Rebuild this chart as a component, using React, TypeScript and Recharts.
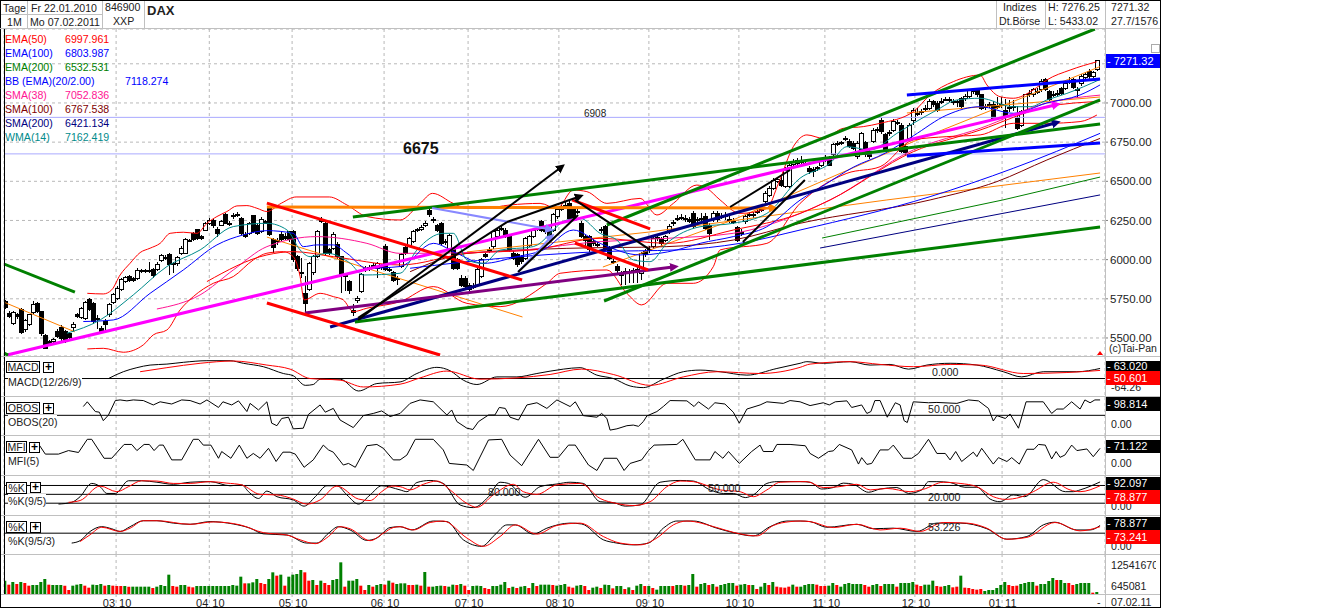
import { ComposedChart, Bar, Line, XAxis, YAxis, CartesianGrid, ReferenceLine, Cell } from "recharts";

// bar index of the first trading day of each month
const monthTicks = [27.7, 51, 71.7, 94.7, 115.7, 138.4, 160.9, 183.4, 204.9, 227.4, 249.2];
const monthLabels = ["03", "04", "05", "06", "07", "08", "09", "10", "11", "12", "01"];
const yearLabels = ["10", "10", "10", "10", "10", "10", "10", "10", "10", "10", "11"];
const priceTicks = [5500, 5750, 6000, 6250, 6500, 6750, 7000, 7250];

const opens = [
  5732, 5658, 5590, 5650, 5679, 5551, 5583, 5662, 5717, 5668,
  5513, 5477, 5477, 5541, 5568, 5541, 5530, 5566, 5647, 5632,
  5626, 5743, 5722, 5615, 5562, 5605, 5647, 5726, 5753, 5811,
  5860, 5892, 5881, 5881, 5924, 5930, 5930, 5934, 5934, 5994,
  6009, 6030, 5977, 5977, 6041, 6041, 6122, 6168, 6190, 6147,
  6185, 6228, 6249, 6194, 6221, 6285, 6232, 6275, 6285, 6264,
  6162, 6168, 6279, 6221, 6179, 6243, 6328, 6130, 6125, 6158,
  6150, 6179, 6179, 6019, 5917, 5785, 5811, 5917, 6019, 6253,
  6232, 6062, 6073, 6094, 6019, 5902, 5860, 5675, 5737, 5796,
  5945, 5935, 5965, 5945, 5960, 6083, 5940, 5917, 5880, 5955,
  6079, 6093, 6115, 6193, 6193, 6221, 6312, 6257, 6215, 6232,
  6115, 6062, 6062, 5998, 5881, 5881, 5838, 5830, 5838, 5891,
  6030, 6062, 6083, 6147, 6200, 6189, 6157, 6040, 6030, 6015,
  6008, 6093, 6147, 6198, 6242, 6195, 6178, 6189, 6274, 6321,
  6345, 6359, 6317, 6310, 6232, 6147, 6147, 6115, 6097, 6185,
  6210, 6072, 5990, 5955, 5913, 5925, 5925, 5925, 5935, 5913,
  6051, 6060, 6083, 6135, 6129, 6125, 6178, 6232, 6264, 6268,
  6260, 6255, 6295, 6255, 6265, 6274, 6221, 6253, 6295, 6275,
  6280, 6255, 6245, 6206, 6170, 6242, 6285, 6285, 6305, 6315,
  6370, 6412, 6455, 6500, 6508, 6466, 6466, 6610, 6615, 6630,
  6615, 6583, 6578, 6580, 6598, 6635, 6647, 6668, 6742, 6742,
  6774, 6753, 6742, 6657, 6700, 6747, 6689, 6753, 6825, 6891,
  6796, 6810, 6827, 6875, 6859, 6721, 6774, 6891, 6935, 6945,
  6965, 6966, 7008, 6998, 7010, 7025, 7020, 7010, 7010, 7030,
  7030, 7040, 7078, 7083, 7051, 6975, 6985, 6987, 6980, 6990,
  6955, 6972, 6980, 6902, 6859, 6955, 7060, 7051, 7075, 7083,
  7147, 7072, 7055, 7060, 7093, 7093, 7135, 7147, 7087, 7125,
  7165, 7200, 7172, 7215,
];
const closes = [
  5696, 5637, 5662, 5637, 5534, 5611, 5647, 5711, 5668, 5526,
  5434, 5462, 5492, 5509, 5498, 5492, 5505, 5588, 5637, 5690,
  5726, 5679, 5605, 5626, 5541, 5583, 5711, 5775, 5817, 5875,
  5885, 5870, 5870, 5930, 5930, 5924, 5925, 5896, 5966, 6024,
  6015, 5966, 5966, 6015, 6073, 6130, 6118, 6130, 6136, 6136,
  6232, 6249, 6215, 6164, 6243, 6232, 6226, 6279, 6279, 6168,
  6147, 6228, 6179, 6168, 6258, 6232, 6158, 6077, 6115, 6126,
  6135, 6126, 5998, 5945, 5911, 5722, 5977, 6019, 6179, 6243,
  6041, 6041, 6158, 6019, 5902, 5892, 5802, 5662, 5753, 5902,
  5934, 5950, 5958, 5975, 5950, 5934, 5930, 5870, 5872, 6030,
  6040, 6136, 6179, 6185, 6206, 6232, 6291, 6249, 6185, 6104,
  6108, 6157, 5945, 5945, 5838, 5828, 5811, 5822, 5934, 5998,
  6023, 6051, 6178, 6189, 6192, 6147, 6062, 6008, 5966, 5987,
  6136, 6147, 6189, 6192, 6189, 6180, 6136, 6285, 6317, 6338,
  6338, 6264, 6264, 6300, 6147, 6125, 6062, 6105, 6090, 6195,
  6072, 6008, 5985, 5930, 5896, 5917, 5918, 5930, 5925, 6040,
  6030, 6066, 6136, 6140, 6100, 6145, 6210, 6235, 6257, 6262,
  6255, 6245, 6210, 6250, 6262, 6200, 6168, 6295, 6253, 6272,
  6277, 6250, 6238, 6125, 6175, 6274, 6290, 6280, 6310, 6320,
  6423, 6455, 6508, 6510, 6476, 6572, 6604, 6625, 6632, 6620,
  6605, 6562, 6562, 6585, 6636, 6640, 6604, 6732, 6738, 6745,
  6770, 6721, 6710, 6742, 6806, 6668, 6657, 6827, 6830, 6817,
  6700, 6805, 6881, 6870, 6689, 6683, 6859, 6955, 6930, 6940,
  6960, 7008, 6990, 6955, 7005, 7020, 7015, 7005, 7002, 6976,
  7040, 7078, 7075, 7051, 6966, 6970, 6990, 6902, 6975, 6985,
  6923, 6968, 6975, 6838, 6944, 7051, 7055, 7083, 7070, 7136,
  7083, 7019, 7050, 7058, 7062, 7125, 7140, 7100, 7085, 7172,
  7180, 7168, 7193, 7271,
];
const highs = [
  5745, 5670, 5675, 5660, 5690, 5620, 5655, 5735, 5730, 5675,
  5525, 5490, 5500, 5555, 5585, 5550, 5540, 5600, 5660, 5700,
  5735, 5755, 5730, 5645, 5575, 5620, 5725, 5790, 5830, 5885,
  5895, 5905, 5890, 5945, 5940, 5938, 5985, 5945, 5985, 6035,
  6030, 6045, 5985, 6025, 6085, 6135, 6130, 6175, 6195, 6155,
  6240, 6265, 6260, 6210, 6255, 6295, 6245, 6295, 6305, 6270,
  6175, 6240, 6285, 6235, 6270, 6255, 6345, 6140, 6135, 6175,
  6170, 6185, 6190, 6030, 6010, 5895, 5985, 6030, 6190, 6270,
  6240, 6075, 6175, 6110, 6025, 5915, 5870, 5720, 5770, 5915,
  5960, 5965, 5980, 5985, 5975, 6100, 5950, 5925, 5895, 6040,
  6090, 6145, 6190, 6205, 6220, 6245, 6325, 6270, 6230, 6240,
  6130, 6165, 6070, 6010, 5900, 5895, 5850, 5850, 5945, 6010,
  6045, 6080, 6190, 6200, 6215, 6200, 6165, 6055, 6045, 6030,
  6145, 6160, 6200, 6215, 6255, 6210, 6190, 6295, 6330, 6350,
  6365, 6385, 6330, 6325, 6245, 6160, 6160, 6130, 6115, 6210,
  6220, 6085, 6005, 5970, 5930, 5945, 5940, 5945, 5950, 6050,
  6065, 6085, 6150, 6160, 6145, 6160, 6225, 6255, 6285, 6290,
  6285, 6275, 6310, 6275, 6300, 6300, 6235, 6310, 6310, 6300,
  6305, 6280, 6265, 6215, 6195, 6290, 6305, 6305, 6330, 6340,
  6435, 6470, 6520, 6525, 6540, 6590, 6610, 6640, 6650, 6660,
  6630, 6600, 6590, 6600, 6650, 6665, 6660, 6745, 6755, 6760,
  6790, 6770, 6755, 6755, 6815, 6760, 6700, 6840, 6845, 6905,
  6810, 6830, 6895, 6890, 6870, 6735, 6870, 6965, 6965, 6960,
  6985, 7025, 7020, 7010, 7030, 7040, 7035, 7025, 7020, 7040,
  7055, 7090, 7090, 7095, 7060, 6995, 7005, 7010, 7035, 7040,
  7025, 7020, 7020, 6980, 6955, 7060, 7080, 7095, 7095, 7150,
  7160, 7085, 7075, 7080, 7105, 7140, 7165, 7160, 7105, 7185,
  7200, 7215, 7205, 7276,
];
const lows = [
  5685, 5625, 5580, 5620, 5525, 5540, 5575, 5655, 5660, 5515,
  5433, 5450, 5470, 5500, 5480, 5470, 5495, 5535, 5625, 5620,
  5615, 5670, 5590, 5560, 5525, 5545, 5635, 5715, 5745, 5800,
  5850, 5860, 5860, 5870, 5915, 5915, 5915, 5885, 5925, 5985,
  6000, 5900, 5915, 5960, 6030, 6035, 6110, 6120, 6125, 6125,
  6180, 6220, 6205, 6145, 6215, 6225, 6215, 6260, 6270, 6160,
  6135, 6160, 6170, 6160, 6170, 6225, 6150, 6040, 6095, 6115,
  6125, 6115, 5985, 5930, 5880, 5665, 5800, 5905, 6010, 6235,
  6030, 6030, 6060, 6005, 5790, 5800, 5780, 5640, 5725, 5785,
  5920, 5925, 5945, 5880, 5935, 5925, 5920, 5860, 5840, 5945,
  6030, 6085, 6105, 6175, 6185, 6210, 6275, 6235, 6175, 6095,
  6095, 6050, 5935, 5935, 5825, 5815, 5800, 5810, 5825, 5880,
  6010, 6040, 6070, 6135, 6180, 6135, 6050, 5995, 5955, 5975,
  5995, 6080, 6135, 6180, 6175, 6165, 6110, 6175, 6260, 6310,
  6325, 6255, 6255, 6290, 6135, 6090, 6050, 6090, 6080, 6170,
  6060, 5995, 5970, 5915, 5840, 5840, 5850, 5850, 5850, 5870,
  6015, 6045, 6070, 6120, 6090, 6110, 6165, 6215, 6245, 6250,
  6240, 6235, 6200, 6235, 6245, 6190, 6125, 6240, 6240, 6260,
  6255, 6235, 6225, 6115, 6150, 6230, 6270, 6265, 6290, 6305,
  6360, 6400, 6445, 6490, 6465, 6455, 6455, 6600, 6605, 6610,
  6595, 6545, 6530, 6565, 6590, 6625, 6595, 6660, 6725, 6730,
  6755, 6710, 6700, 6640, 6690, 6655, 6645, 6745, 6810, 6805,
  6690, 6790, 6815, 6860, 6680, 6670, 6765, 6860, 6915, 6925,
  6950, 6955, 6975, 6945, 6995, 7010, 7005, 6990, 6975, 6965,
  7015, 7030, 7060, 7040, 6955, 6955, 6970, 6890, 6960, 6970,
  6840, 6945, 6950, 6830, 6845, 6940, 7040, 7040, 7055, 7070,
  7075, 7010, 7035, 7045, 7050, 7085, 7120, 7090, 7030, 7110,
  7155, 7155, 7160, 7205,
];

// volume in units of roughly 27k shares
const volumes = [
  40, 28, 36, 30, 36, 33, 25, 27, 27, 36,
  45, 28, 27, 27, 27, 25, 12, 25, 28, 30,
  25, 19, 28, 27, 30, 25, 27, 25, 24, 24,
  24, 22, 22, 22, 22, 22, 22, 18, 22, 27,
  24, 58, 24, 22, 27, 27, 22, 20, 24, 24,
  24, 24, 24, 24, 24, 24, 24, 27, 25, 52,
  32, 32, 35, 45, 33, 30, 45, 65, 55, 58,
  25, 52, 58, 60, 72, 65, 40, 42, 27, 40,
  33, 27, 42, 45, 95, 22, 40, 40, 45, 25,
  12, 27, 22, 27, 30, 28, 40, 34, 30, 32,
  32, 27, 27, 28, 25, 66, 22, 22, 24, 25,
  24, 22, 28, 27, 30, 25, 12, 24, 25, 24,
  18, 15, 24, 24, 28, 36, 18, 22, 18, 22,
  24, 18, 33, 24, 28, 28, 28, 27, 25, 27,
  30, 22, 19, 25, 27, 24, 12, 19, 22, 18,
  28, 27, 17, 24, 24, 15, 20, 12, 25, 30,
  24, 24, 18, 13, 24, 24, 24, 24, 27, 27,
  25, 27, 60, 22, 30, 33, 27, 30, 22, 27,
  30, 33, 33, 25, 28, 30, 27, 27, 15, 22,
  33, 27, 36, 22, 20, 19, 22, 28, 22, 22,
  27, 30, 30, 28, 24, 24, 25, 33, 27, 22,
  30, 33, 30, 30, 30, 27, 22, 27, 30, 24,
  30, 30, 30, 22, 33, 33, 33, 36, 28, 24,
  28, 28, 40, 24, 22, 24, 27, 20, 22, 55,
  19, 18, 15, 13, 15, 9, 12, 12, 18, 27,
  36, 27, 24, 25, 30, 33, 36, 36, 25, 30,
  30, 39, 48, 42, 42, 33, 33, 27, 30, 33,
  33, 33, 4, 6,
];
// g = up day, r = down day
const volumeColors = [
  "grgrgrrggg", "grgggrrggg", "rrgggrgrrr", "grgggggrgg", "ggrrggrrgg",
  "gggggggggg", "rgggrrggrg", "rggggrrgrg", "rrgggrgggr", "rgrggrgrgg",
  "grrgrgrggg", "rggrgrrggg", "rrggggrgrg", "grgrgggrgg", "grrggrrggr",
  "ggrggrgrgg", "rgrggggrgg", "rggrggrgrg", "gggrggrgrg", "grgrrrrgrg",
  "gggrrrggrg", "gggggrrggr", "gggrggggrr", "gggrrggrrg", "rrrrrggggg",
  "grrrggggrg", "gggrggrrgg", "ggrg",
].join("");

// moving averages, [bar index, price]
const wma14 = [[15.4,5530],[23.7,5615],[32,5775],[40.4,5956],[48.7,6062],[57,6211],[65.4,6232],[70.4,6190],[73.7,6062],[76.2,6019],[80.4,6041],[86.2,5977],[89.5,5902],[98.7,5913],[102.9,6061],[109.5,6168],[112,6168],[115.4,5998],[119.5,5976],[123.7,6061],[132,6083],[140.4,6253],[143.7,6264],[148.7,6168],[152.9,6125],[157,5998],[161.2,5987],[165.4,6104],[173.7,6210],[182,6232],[190.4,6295],[198.7,6520],[206.2,6615],[210.4,6721],[216.2,6700],[222.9,6806],[227,6870],[232.9,6955],[237.9,7019],[243.7,7030],[252,6976],[256.2,6976],[260.4,7019],[265.4,7061],[273.7,7150]];
const bbMid = [[19.5,5605],[27,5615],[36.2,5785],[44.5,5934],[52.9,6094],[59.5,6158],[65.4,6185],[72,6168],[74.5,6083],[77.9,6094],[82,6094],[85.4,6041],[90.4,5945],[98.7,5956],[107,6104],[112.9,6040],[119.5,5976],[127.9,6019],[134.5,6062],[142,6189],[148.7,6104],[158.7,6030],[167.9,6062],[173.7,6104],[182,6147],[190.4,6210],[198.7,6380],[205,6480],[212,6590],[220,6680],[227,6790],[235.4,6923],[243.7,6976],[252,6934],[260.4,7000],[268.7,7051],[273.7,7115]];
const bbUpper = [[20.5,5785],[24.5,5781],[26.6,5807],[28.7,5902],[31.2,5977],[33.7,6045],[36.2,6073],[38.7,6104],[41.2,6168],[44.5,6175],[47.9,6168],[50.4,6232],[52.9,6275],[55.4,6307],[57.9,6343],[60.4,6345],[62.9,6328],[65.4,6307],[69,6360],[72.7,6400],[81,6400],[85.4,6349],[90.4,6275],[98.7,6253],[103.7,6359],[106.8,6423],[112,6359],[115.4,6327],[119.5,6327],[126.2,6349],[133.7,6359],[137.9,6327],[142,6444],[145.4,6434],[150.4,6359],[158.7,6391],[162.9,6285],[167,6359],[172.9,6476],[175.4,6455],[178.7,6381],[183.7,6295],[190.4,6327],[193.3,6487],[197,6721],[200.4,6796],[204.5,6774],[209.5,6838],[214.5,6849],[218.7,6870],[227,6944],[231.2,7051],[237,7136],[243.7,7178],[245.4,7115],[248.7,7040],[252,7030],[257,7083],[260.4,7147],[266.2,7210],[272.9,7263]];
const bbLower = [[20.5,5430],[24.5,5434],[29.5,5409],[34.5,5456],[37,5520],[40.4,5551],[43.7,5679],[47,5764],[52,5849],[57,5892],[62,5998],[65.4,6041],[69.5,6051],[72,6019],[73.7,5892],[74.7,5743],[78.7,5785],[82,5764],[84.5,5743],[87,5668],[90.4,5690],[98.7,5732],[107,5828],[115.4,5721],[123.7,5700],[135.4,5849],[138.7,5913],[150.4,5934],[155.4,5785],[159.1,5711],[165.4,5849],[172,5849],[177,5955],[178.7,6062],[190.4,6104],[198.7,6359],[210.4,6551],[218.7,6593],[227,6764],[235.4,6785],[243.7,6796],[252,6870],[260.4,6870],[268.7,6881],[272.9,6923]];
const ema50 = [[50.4,5860],[65.4,6030],[72,6051],[82,6019],[98.7,5966],[115.4,6040],[132,6062],[148.7,6136],[165.4,6104],[182,6189],[198.7,6295],[206.2,6381],[227,6689],[243.7,6827],[260.4,6976],[273.7,7010]];
const sma38 = [[37.9,5685],[48.7,5775],[57,5934],[65.4,6083],[77.9,6147],[90.4,6104],[98.7,6040],[123.7,6051],[148.7,6115],[165.4,6136],[182,6168],[198.7,6295],[206.2,6381],[227,6700],[243.7,6838],[260.4,7000],[273.7,7050]];
const sma100 = [[101.2,5923],[115.4,6040],[140.4,6072],[165.4,6083],[182,6125],[198.7,6232],[231.2,6381],[247.9,6498],[260.4,6636],[273.7,6774]];
const ema100 = [[101.2,5945],[123.7,6008],[148.7,6051],[167.9,6062],[183.7,6104],[198.7,6189],[231.2,6402],[252,6583],[273.7,6806]];
const ema200 = [[204.2,6138],[249.4,6381],[273.7,6527]];
const sma200 = [[203.7,6074],[273.7,6413]];
const orangeThin = [
  [[0,5725],[17.4,5539]],
  [[65.4,6144],[129.3,5634]],
  [[115.4,6049],[160.9,6176],[220.4,6381],[273.7,6553]],
  [[225.4,6936],[273.7,7038]],
  [[149.4,5953],[181.9,6253],[227,6753],[273.7,7232]],
];

// hand drawn trend lines, [bar index, price]
const greenTrends = [
  [[-0.3,5972],[17.4,5793]],
  [[-0.3,5404],[0.7,5391]],
  [[87.4,5602],[273.7,6208]],
  [[149.7,5736],[273.7,7019]],
  [[86.9,6272],[273.7,6866]],
  [[150.4,6221],[272.4,7472]],
];
const redTrends = [
  [[65.4,6361],[129.2,5870]],
  [[65.4,5723],[108.7,5391]],
  [[141.7,6381],[161.2,6196]],
  [[142.4,6106],[160.7,5934]],
];
const blackTrends = [
  [[88.2,5628],[125.4,6240]],
  [[128.2,5921],[143.2,6285]],
  [[142.4,6381],[161.2,6062]],
  [[181.2,6336],[196.2,6572]],
  [[184.4,6113],[199.9,6508]],
];
const blackArrows = [
  [[88.2,5615],[138.7,6585]],
  [[125.4,6240],[143.2,6400]],
];
const lavenderArrows = [
  [[106.7,6330],[135.7,6195]],
  [[128.2,5921],[136.2,6138]],
];
const magentaArrow = [[0.4,5391],[262.4,6987]];
const orangeArrow = [[65.4,6336],[191.7,6330]];
const navyArrow = [[81.2,5570],[262.4,6872]];
const purpleArrow = [[74.9,5659],[166.9,5953]];
const blueTrends = [
  [[225.4,7051],[273.7,7153]],
  [[225.4,6661],[273.7,6744]],
];

// indicator panels, [bar index, value]
const macd = [[25.8,0],[29.5,42],[32.9,67],[36.2,83],[40.4,89],[44.5,100],[50.4,110],[56.2,110],[59.5,94],[64.5,73],[69.5,31],[72,17],[75,-42],[77,-37],[78.7,-4],[83.7,-4],[88.3,-77],[92.9,-31],[98.7,-21],[102.9,31],[107.9,69],[111.2,48],[114.5,-10],[117.9,-37],[122.9,10],[127.9,10],[132.9,31],[139.5,58],[143.7,67],[147.9,21],[152,0],[156.2,-46],[159.5,-56],[164.5,-4],[169.5,42],[173.7,52],[178.7,42],[185.4,21],[192.9,62],[198.7,94],[200.4,104],[204.5,94],[211.2,104],[216.2,83],[221.2,87],[225.8,58],[230.4,83],[236.2,94],[242.9,83],[249.5,42],[254.1,10],[259.5,42],[267.9,42],[273.7,62]];
const macdSignal = [[33.7,42],[40.4,67],[48.7,94],[57,108],[65.4,83],[71.2,58],[76.2,0],[83.7,-10],[89.5,-52],[98.7,-35],[103.7,4],[110.4,46],[118.7,-4],[127.9,4],[136.2,25],[144.1,58],[152,25],[161.2,-42],[169.5,10],[177.9,42],[188.7,31],[198.7,69],[201.2,89],[211.2,104],[218.7,87],[227,73],[236.2,87],[243.7,83],[254.5,31],[265.4,37],[273.7,50]];
const obos = [[19.5,78],[20.5,93],[22.5,62],[23.5,60],[24.5,33],[25.8,51],[27.5,97],[28.7,99],[30.4,96],[32,99],[34.5,97],[37,83],[38.7,93],[41.6,86],[44.1,99],[46.2,97],[48.7,86],[50.4,99],[53.3,75],[54.4,93],[56.6,83],[58.3,96],[60.4,62],[61.2,88],[63.3,67],[65.4,93],[66.6,25],[67.9,17],[69.1,40],[70.8,44],[72,7],[74.5,9],[75.8,53],[78.7,83],[80,60],[82,72],[83.7,35],[87,11],[89.5,49],[92,56],[94.1,64],[96.2,46],[98.7,56],[101.2,88],[103.7,99],[107,93],[110.4,51],[111.6,67],[112.9,30],[115.4,9],[116.9,5],[118.3,30],[120.8,51],[122.4,51],[123.5,75],[125,72],[126.2,44],[128.3,35],[130.4,83],[132.9,90],[135.4,72],[137.9,99],[141.2,78],[142.5,93],[144.5,49],[147.9,44],[149.1,56],[150.4,40],[151.2,3],[152.9,7],[155.4,17],[157,19],[158.3,15],[159.5,30],[160.4,48],[162.9,62],[164.5,78],[166.2,97],[170.4,96],[172.2,78],[173.3,93],[175.8,70],[177.4,90],[179.9,86],[182,60],[183.5,25],[185.4,70],[188.7,83],[190.4,93],[194.5,88],[196.2,97],[198.7,93],[201.2,81],[204.5,90],[206,83],[207.5,93],[210.4,96],[211.6,75],[214.1,83],[215.4,56],[216.4,62],[217.4,97],[218.7,97],[220.5,44],[222.5,90],[223.7,83],[224.7,33],[225.5,27],[227,93],[230.8,90],[232.9,91],[237.9,88],[240.8,99],[243.3,96],[245.8,72],[247,32],[247.9,49],[250,40],[251.2,54],[253.3,9],[255.2,93],[259.5,93],[261.6,56],[262.9,70],[264.5,70],[266.6,93],[268.7,70],[269.9,99],[271.2,90],[272.4,99],[273.7,99]];
const mfi = [[8.5,81],[10,53],[13.3,53],[15.8,64],[18.3,58],[20.5,99],[21.6,99],[24.7,40],[26.6,40],[29.7,83],[31.6,83],[32.9,64],[34.7,83],[36,83],[37.2,64],[38.5,81],[39.5,81],[41.6,35],[44.1,35],[47,99],[48.3,99],[49.5,81],[51.4,81],[53.3,40],[54.1,61],[56.4,40],[58.5,81],[60.4,40],[62,55],[63.7,40],[65.8,71],[67.7,30],[69.4,59],[71.2,59],[72.5,53],[74.7,12],[77,35],[79.5,81],[80.8,66],[82,59],[84.5,19],[85.8,24],[87.5,12],[90.4,79],[92.9,83],[94.5,71],[97,35],[98.7,35],[100.4,50],[102.5,99],[107,99],[109.5,66],[111,24],[115.4,19],[117,2],[120.8,97],[124.1,99],[126.2,50],[129.1,17],[133.3,99],[136.2,43],[138.3,43],[140.8,81],[142.5,81],[145.8,19],[147.9,2],[149.7,40],[152.9,40],[154.7,2],[156.2,24],[159.1,35],[160.8,64],[162.2,81],[167.9,83],[169.4,99],[172.5,35],[176.2,35],[177.4,61],[179.4,40],[180.8,61],[183.5,24],[186.6,61],[188.7,81],[189.5,61],[191.9,61],[192.9,83],[196.2,83],[200,79],[201.2,55],[203.3,40],[205.8,61],[207,63],[208.5,83],[211.6,66],[213.3,22],[214.1,42],[215.4,21],[216.6,24],[218.7,66],[220.8,66],[222,81],[224.5,40],[226.6,40],[228.3,55],[230.8,99],[232.9,55],[235,55],[236.2,35],[237.6,61],[239.1,30],[242,59],[242.9,45],[244.1,71],[247,22],[248.3,42],[250.4,30],[251.6,42],[253.5,22],[255.4,68],[257.2,68],[258.3,83],[260,81],[261.6,38],[262.7,61],[263.7,43],[264.9,50],[266.6,81],[267.9,64],[270.4,69],[272,45],[273.7,71]];
const stochK = [[13.3,17],[16.6,23],[18.7,42],[21.6,87],[23.7,76],[25.4,53],[27.5,53],[30.8,96],[34.1,96],[37.9,91],[42,84],[46.2,91],[51.2,93],[56.2,79],[59.1,82],[60.8,59],[63.3,36],[65.4,61],[67.9,42],[72,31],[74.7,10],[77.5,42],[80.4,79],[82.9,79],[85.4,48],[88.3,17],[91.2,48],[94.1,79],[98.7,65],[100.4,59],[102.9,90],[106.2,97],[109.5,87],[113.7,14],[117,5],[120.8,42],[123.7,91],[125.8,87],[130,40],[133.7,76],[137.9,85],[141.2,91],[144.5,87],[148.7,25],[152,22],[155,10],[158.7,14],[163.7,91],[168.7,97],[172,95],[176.2,65],[179.5,53],[182,53],[185,39],[187,48],[190.4,87],[192.9,93],[198.7,93],[201.2,91],[204.1,68],[207,73],[209.5,88],[212,84],[215.8,57],[218.7,68],[222.9,73],[225.8,53],[229.1,65],[230.8,93],[232.9,93],[236.2,90],[239.9,74],[242.9,74],[246.2,34],[248.7,25],[252,48],[254.9,42],[259.5,100],[265,59],[267,59],[268.7,65],[273.7,92]];
const stochD = [[15.8,23],[18.7,29],[23.7,78],[27.9,59],[30.8,76],[34.1,96],[37.9,95],[42,87],[46.2,87],[51.2,93],[55.4,88],[59.1,82],[63.7,50],[67.9,48],[71.6,36],[75.4,17],[78.7,31],[82.9,78],[88.3,34],[91.2,29],[94.1,59],[96.6,78],[98.7,76],[101.2,65],[104.5,84],[107.9,95],[111.2,65],[115.4,19],[117.9,6],[122,48],[127,84],[129.5,59],[132.9,50],[137.9,82],[143.7,87],[148.7,36],[152.9,19],[157,12],[161.2,25],[165.4,76],[168.7,95],[172,93],[178.7,65],[183.7,59],[187,42],[190.4,65],[193.7,91],[198.7,93],[200.4,93],[204.5,73],[207.9,75],[212.9,84],[216.2,65],[220.4,70],[226.2,59],[229.5,67],[234.5,91],[238.7,87],[242.9,76],[247,42],[250,33],[253.7,40],[257,59],[262,91],[266.2,65],[268.7,59],[273.7,79]];
const slowK = [[16.6,20],[18.7,28],[21.2,59],[24.1,75],[26.6,68],[28.7,59],[31.2,75],[34.5,95],[37.9,95],[42,87],[46.2,83],[51.2,92],[57,84],[61.2,70],[64.5,51],[70.4,47],[75.4,20],[77.9,20],[80.8,53],[83.3,75],[86.2,64],[90.4,29],[92.9,37],[96.2,72],[98.7,75],[101.6,64],[107,94],[110.4,92],[114.5,31],[119.1,9],[122.4,48],[125.4,81],[127.5,81],[132,50],[135.4,70],[141.2,87],[144.1,84],[149.5,31],[152.9,20],[157,14],[160.8,20],[164.5,70],[167.9,94],[172,94],[177.9,70],[182,55],[187,44],[191.2,75],[195.4,94],[198.7,94],[201.2,92],[205.4,73],[212.9,83],[217,68],[222,70],[227.9,59],[232.9,87],[238.7,87],[245.4,68],[250.4,33],[255.4,42],[259.5,81],[262.4,90],[267.9,64],[271.2,64],[273.7,79]];
const slowD = [[18.7,25],[21.2,48],[24.1,73],[28.7,59],[31.2,70],[34.5,95],[37.9,95],[46.2,83],[52,91],[58.7,81],[64.5,55],[70.4,47],[73.7,31],[77.5,18],[80.8,42],[83.7,75],[86.2,68],[91.2,28],[94.5,53],[97,72],[98.7,75],[102,64],[106.2,89],[109.5,94],[115.4,37],[119.5,9],[123.7,42],[127.5,81],[132.9,50],[137.9,79],[143.7,87],[149.5,42],[153.7,20],[158.7,14],[162.9,37],[167,81],[170.4,94],[177.9,72],[182,56],[187.9,44],[192,79],[196.2,92],[198.7,94],[201.2,92],[207,72],[212.9,83],[218.7,64],[223.7,70],[228.7,59],[234.5,89],[240.4,87],[245.4,70],[250.4,33],[255.4,39],[262.4,89],[268.7,61],[273.7,75]];

const legendRows = [
  ["EMA(50)", "6997.961", "#ff0000"],
  ["EMA(100)", "6803.987", "#0000ff"],
  ["EMA(200)", "6532.531", "#008000"],
  ["BB (EMA)(20/2.00)", "7118.274", "#0000ff"],
  ["SMA(38)", "7052.836", "#ff1493"],
  ["SMA(100)", "6767.538", "#800000"],
  ["SMA(200)", "6421.134", "#000080"],
  ["WMA(14)", "7162.419", "#008b8b"],
];

const PAGE_W = 1323;
const PAGE_H = 609;
const FRAME_W = 1161;
const AXIS_W = 56;
const FONT = '"Liberation Sans", Arial, sans-serif';
const X_DOMAIN = [-0.325, 274.93];
const GRID = "#b8b8b8";
const SEP = "#c0c0c0";

const pts = (a: number[][]) => a.map(([x, y]) => ({ x, y }));

const candles = opens.map((open, i) => ({
  x: i,
  open,
  close: closes[i],
  high: highs[i],
  low: lows[i],
  range: [lows[i], highs[i]],
}));
const volumeRows = volumes.map((v, i) => ({ x: i, v }));

const Candle = (props: any) => {
  const { x, y, width, height, payload } = props;
  if (!payload) return null;
  const cx = Math.round(x + width / 2) + 0.5;
  const perUnit = height / (payload.high - payload.low);
  const top = y + (payload.high - Math.max(payload.open, payload.close)) * perUnit;
  const bodyH = Math.max(Math.abs(payload.open - payload.close) * perUnit, 1);
  const up = payload.close >= payload.open;
  return (
    <g shapeRendering="crispEdges">
      <line x1={cx} x2={cx} y1={y} y2={y + height} stroke="#000" />
      <rect x={cx - 2} y={top} width={4} height={bodyH} fill={up ? "#fff" : "#000"} stroke="#000" />
    </g>
  );
};

const MonthTick = (props: any) => {
  const { x, y, index } = props;
  return (
    <g fontFamily={FONT} fontSize={11} fill="#222">
      <line x1={x} x2={x} y1={y - 8} y2={y + 6} stroke={GRID} strokeDasharray="3 3" />
      <text x={x - 1} y={y + 5} textAnchor="end">{monthLabels[index]}</text>
      <text x={x + 3} y={y + 5}>{yearLabels[index]}</text>
    </g>
  );
};

const seg = (key: string, data: number[][], color: string, w: number, arrow?: string, curve = "linear") => (
  <Line
    key={key}
    data={pts(data)}
    dataKey="y"
    type={curve as any}
    stroke={color}
    strokeWidth={w}
    dot={false}
    activeDot={false}
    legendType="none"
    isAnimationActive={false}
    markerEnd={arrow ? `url(#${arrow})` : undefined}
  />
);

const Arrow = ({ id, color }: { id: string; color: string }) => (
  <marker id={id} markerUnits="userSpaceOnUse" markerWidth="10" markerHeight="10" refX="3" refY="4.5" orient="auto">
    <path d="M0,0 L9,4.5 L0,9 z" fill={color} />
  </marker>
);

interface PanelProps {
  top: number;
  height: number;
  domain: number[];
  levels: number[];
  black: number[][];
  red?: number[][];
  curve?: string;
}

const Panel = ({ top, height, domain, levels, black, red, curve = "linear" }: PanelProps) => (
  <div style={{ position: "absolute", left: 0, top }}>
    <ComposedChart width={FRAME_W} height={height} margin={{ top: 0, right: AXIS_W, bottom: 0, left: 4 }} data={candles}>
      <CartesianGrid horizontal={false} stroke={GRID} strokeDasharray="3 3" />
      <XAxis dataKey="x" type="number" domain={X_DOMAIN} ticks={monthTicks} hide allowDataOverflow />
      <YAxis type="number" domain={domain} hide allowDataOverflow />
      {levels.map((v) => (
        <ReferenceLine key={v} y={v} stroke="#000" strokeWidth={1} />
      ))}
      {seg("black", black, "#000", 1, undefined, curve)}
      {red && seg("red", red, "#ff0000", 1, undefined, curve)}
    </ComposedChart>
  </div>
);

const Label = ({ x, y, children, color = "#222", size = 10.6, weight, bg, w }: any) => (
  <div
    style={{
      position: "absolute",
      left: x,
      top: y - 7,
      height: 14,
      lineHeight: "14px",
      width: w,
      fontFamily: FONT,
      fontSize: size,
      fontWeight: weight,
      color,
      background: bg,
      whiteSpace: "nowrap",
      overflow: w ? "hidden" : "visible",
    }}
  >
    {children}
  </div>
);

const Tag = ({ y, h, bg, children }: any) => (
  <div
    style={{
      position: "absolute",
      left: 1106,
      top: y,
      width: 54,
      height: h,
      background: bg,
      color: "#fff",
      fontFamily: FONT,
      fontSize: 11,
      lineHeight: `${h}px`,
      paddingLeft: 1,
      boxSizing: "border-box",
      whiteSpace: "nowrap",
    }}
  >
    - {children}
  </div>
);

const Box = ({ x, y, w, h, children }: any) => (
  <div
    style={{
      position: "absolute",
      left: x,
      top: y,
      width: w,
      height: h,
      border: "1px solid #000",
      boxSizing: "border-box",
      background: "#fff",
      fontFamily: FONT,
      fontSize: 10.6,
      color: "#222",
      textAlign: "center",
      lineHeight: `${h - 2}px`,
    }}
  >
    {children}
  </div>
);

const Plus = ({ x, y }: { x: number; y: number }) => (
  <Box x={x} y={y} w={11} h={11}>
    <span style={{ fontWeight: 700, fontSize: 12, color: "#000" }}>+</span>
  </Box>
);

const Rule = ({ x, y, w, h, c = SEP }: any) => (
  <div style={{ position: "absolute", left: x, top: y, width: w, height: h, background: c }} />
);

export default function App() {
  return (
    <div style={{ position: "absolute", left: 0, top: 0, width: PAGE_W, height: PAGE_H, background: "#fff", overflow: "hidden" }}>
      {/* main price panel */}
      <div style={{ position: "absolute", left: 0, top: 29 }}>
        <ComposedChart width={FRAME_W} height={327} margin={{ top: 0, right: 0, bottom: 0, left: 4 }} data={candles}>
          <defs>
            <Arrow id="a-black" color="#000" />
            <Arrow id="a-lav" color="#8888ff" />
            <Arrow id="a-mag" color="#ff00ff" />
            <Arrow id="a-org" color="#ff8000" />
            <Arrow id="a-navy" color="#000080" />
            <Arrow id="a-pur" color="#800080" />
          </defs>
          <CartesianGrid stroke={GRID} strokeDasharray="3 3" />
          <XAxis dataKey="x" type="number" domain={X_DOMAIN} ticks={monthTicks} hide allowDataOverflow />
          <YAxis
            orientation="right"
            width={AXIS_W}
            type="number"
            domain={[5385, 7472]}
            ticks={priceTicks}
            allowDataOverflow
            axisLine={false}
            tickSize={3}
            tickLine={{ stroke: "#808080" }}
            interval={0}
            tickFormatter={(v: number) => (v === 7250 ? "" : v.toFixed(2))}
            tick={{ fontFamily: FONT, fontSize: 11.5, fill: "#222" }}
          />
          <ReferenceLine y={6908} stroke="#aaaaff" strokeWidth={1} />
          <ReferenceLine y={6675} stroke="#aaaaff" strokeWidth={1} />
          <Bar dataKey="range" barSize={4} shape={Candle} isAnimationActive={false} />
          {orangeThin.map((s, i) => seg(`o${i}`, s, "#ff8000", 1))}
          {seg("sma200", sma200, "#000080", 1)}
          {seg("ema200", ema200, "#008000", 1)}
          {seg("sma100", sma100, "#800000", 1, undefined, "monotone")}
          {seg("ema100", ema100, "#0000ff", 1, undefined, "monotone")}
          {seg("sma38", sma38, "#ff1493", 1, undefined, "monotone")}
          {seg("ema50", ema50, "#ff0000", 1, undefined, "monotone")}
          {seg("bbUpper", bbUpper, "#ff0000", 1, undefined, "monotone")}
          {seg("bbLower", bbLower, "#ff0000", 1, undefined, "monotone")}
          {seg("bbMid", bbMid, "#0000ff", 1, undefined, "monotone")}
          {seg("wma14", wma14, "#008b8b", 1, undefined, "monotone")}
          {seg("magenta", magentaArrow, "#ff00ff", 3, "a-mag")}
          {seg("orange", orangeArrow, "#ff8000", 3, "a-org")}
          {seg("navy", navyArrow, "#000080", 3, "a-navy")}
          {seg("purple", purpleArrow, "#800080", 3, "a-pur")}
          {greenTrends.map((s, i) => seg(`g${i}`, s, "#008000", 3))}
          {redTrends.map((s, i) => seg(`r${i}`, s, "#ff0000", 3))}
          {blueTrends.map((s, i) => seg(`b${i}`, s, "#0000ff", 3))}
          {lavenderArrows.map((s, i) => seg(`l${i}`, s, "#8888ff", 2, "a-lav"))}
          {blackTrends.map((s, i) => seg(`k${i}`, s, "#000", 2))}
          {blackArrows.map((s, i) => seg(`ka${i}`, s, "#000", 2, "a-black"))}
        </ComposedChart>
      </div>

      <Panel top={356} height={41} domain={[-114, 139]} levels={[0]} black={macd} red={macdSignal} curve="monotone" />
      <Panel top={397} height={38} domain={[-12.6, 108.3]} levels={[50]} black={obos} />
      <Panel top={435} height={40} domain={[-12, 112.4]} levels={[]} black={mfi} />
      <Panel top={475} height={40} domain={[-20, 115.5]} levels={[80, 50, 20]} black={stochK} red={stochD} curve="monotone" />
      <Panel top={515} height={39} domain={[-16.7, 114.2]} levels={[53.2]} black={slowK} red={slowD} curve="monotone" />

      {/* volume and month axis, the svg runs a little past the frame so the labels are not clipped */}
      <div style={{ position: "absolute", left: 0, top: 554 }}>
        <ComposedChart width={FRAME_W} height={55} margin={{ top: 0, right: AXIS_W, bottom: 0, left: 4 }} data={volumeRows}>
          <CartesianGrid horizontal={false} stroke={GRID} strokeDasharray="3 3" />
          <XAxis
            dataKey="x"
            type="number"
            domain={X_DOMAIN}
            ticks={monthTicks}
            interval={0}
            height={15}
            axisLine={false}
            tickLine={false}
            tick={MonthTick}
            allowDataOverflow
          />
          <YAxis type="number" domain={[0, 120]} hide allowDataOverflow />
          <Bar dataKey="v" barSize={3} isAnimationActive={false}>
            {volumeRows.map((row) => (
              <Cell key={row.x} fill={volumeColors[row.x] === "r" ? "#ff0000" : "#008000"} />
            ))}
          </Bar>
        </ComposedChart>
      </div>

      {/* frame and separators */}
      <Rule x={0} y={0} w={1161} h={1} c="#000" />
      <Rule x={1160} y={0} w={1} h={608} c="#000" />
      <Rule x={0} y={607} w={1161} h={1} c="#000" />
      <Rule x={0} y={0} w={1} h={608} c="#000" />
      <Rule x={4} y={29} w={1} h={566} c="#000" />
      <Rule x={1105} y={1} w={1} h={606} />
      <Rule x={0} y={28} w={1160} h={1} />
      {[356, 396, 435, 475, 515, 554, 594].map((y) => (
        <Rule key={y} x={1} y={y} w={1159} h={1} />
      ))}

      {/* header */}
      <Rule x={27} y={1} w={1} h={27} />
      <Rule x={102} y={1} w={1} h={27} />
      <Rule x={144} y={1} w={1} h={27} />
      <Rule x={1} y={14} w={101} h={1} />
      <Rule x={996} y={1} w={1} h={27} />
      <Rule x={1045} y={1} w={1} h={27} />
      <Label x={3} y={8}>Tage</Label>
      <Label x={7} y={22}>1M</Label>
      <Label x={31} y={8}>Fr 22.01.2010</Label>
      <Label x={30} y={22}>Mo 07.02.2011</Label>
      <Label x={105} y={7}>846900</Label>
      <Label x={113} y={21}>XXP</Label>
      <Label x={147} y={11} size={13} weight={700}>DAX</Label>
      <Label x={1003} y={7}>Indizes</Label>
      <Label x={999} y={21}>Dt.Börse</Label>
      <Label x={1048} y={7}>H: 7276.25</Label>
      <Label x={1048} y={21}>L: 5433.02</Label>
      <Label x={1111} y={7}>7271.32</Label>
      <Label x={1111} y={21}>27.7/1576</Label>

      {/* indicator legend */}
      {legendRows.map(([name, value, color], i) => (
        <div key={name}>
          <Label x={5} y={39 + i * 14} color={color}>{name}</Label>
          <Label x={name.startsWith("BB") ? 125 : 65} y={39 + i * 14} color={color}>{value}</Label>
        </div>
      ))}

      <Label x={584} y={114} size={10}>6908</Label>
      <Label x={403} y={149} size={16} weight={700} color="#111">6675</Label>

      {/* last price tag */}
      <div style={{ position: "absolute", left: 1151, top: 44, width: 9, height: 9, border: "1px solid #aaa", boxSizing: "border-box" }} />
      <Tag y={54} h={14} bg="#0000ff">7271.32</Tag>
      <Label x={1109} y={348} size={10.5}>(c)Tai-Pan</Label>
      <div style={{ position: "absolute", left: 1097, top: 351, width: 0, height: 0, borderLeft: "3px solid transparent", borderRight: "3px solid transparent", borderBottom: "4px solid #ff0000" }} />

      {/* panel titles */}
      <Box x={6} y={361} w={34} h={12}>MACD</Box>
      <Plus x={43} y={362} />
      <Label x={8} y={382} bg="#fff">MACD(12/26/9)</Label>
      <Box x={6} y={402} w={34} h={12}>OBOS</Box>
      <Plus x={43} y={403} />
      <Label x={8} y={422} bg="#fff">OBOS(20)</Label>
      <Box x={6} y={441} w={21} h={12}>MFI</Box>
      <Plus x={29} y={442} />
      <Label x={8} y={461} bg="#fff">MFI(5)</Label>
      <Box x={6} y={482} w={21} h={12}>%K</Box>
      <Plus x={30} y={482} />
      <Label x={8} y={501} bg="#fff">%K(9/5)</Label>
      <Box x={6} y={521} w={21} h={12}>%K</Box>
      <Plus x={30} y={522} />
      <Label x={8} y={541} bg="#fff">%K(9/5/3)</Label>

      <Label x={932} y={372}>0.000</Label>
      <Label x={928} y={409}>50.000</Label>
      <Label x={488} y={492}>80.000</Label>
      <Label x={708} y={488}>50.000</Label>
      <Label x={928} y={497}>20.000</Label>
      <Label x={928} y={527}>53.226</Label>

      {/* right hand scale of the panels */}
      <Label x={1111} y={387}>-64.26</Label>
      <Tag y={361} h={10} bg="#000">63.020</Tag>
      <Tag y={371} h={14} bg="#ff0000">50.601</Tag>
      <Tag y={397} h={14} bg="#000">98.814</Tag>
      <Label x={1111} y={424}>0.00</Label>
      <Tag y={440} h={13} bg="#000">71.122</Tag>
      <Label x={1111} y={463}>0.00</Label>
      <Label x={1111} y={506}>0.00</Label>
      <Tag y={477} h={13} bg="#000">92.097</Tag>
      <Tag y={490} h={14} bg="#ff0000">78.877</Tag>
      <Label x={1111} y={546}>0.00</Label>
      <Tag y={517} h={13} bg="#000">78.877</Tag>
      <Tag y={530} h={14} bg="#ff0000">73.241</Tag>
      <Label x={1111} y={565} w={45}>12541670</Label>
      <Label x={1111} y={586}>645081</Label>
      <Label x={1097} y={602}>-</Label>
      <Label x={1111} y={602}>07.02.11</Label>
    </div>
  );
}
